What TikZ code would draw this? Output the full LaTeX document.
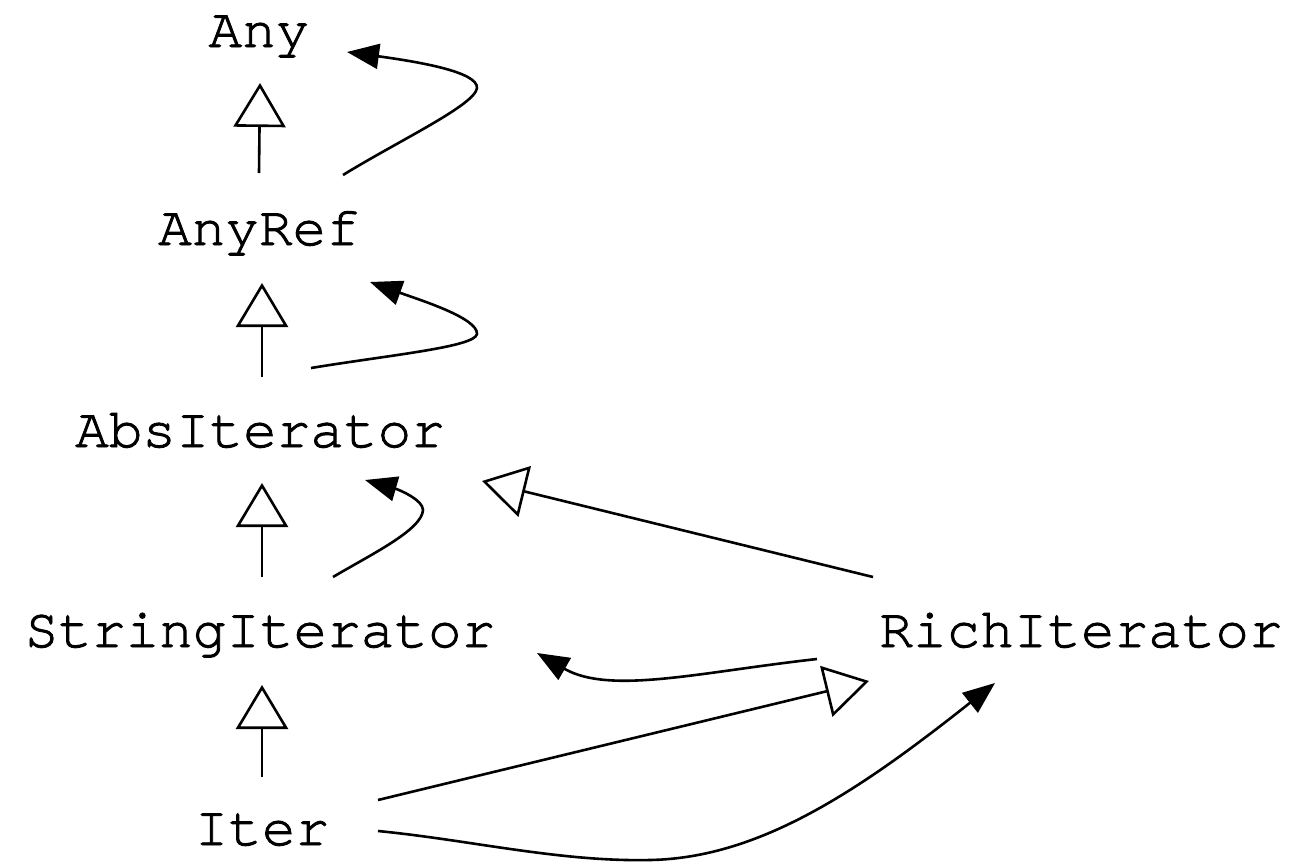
\documentclass[tikz,border=0pt]{standalone}
\usepackage{fontspec}
\setmonofont[RawFeature={embolden=1.6}]{TeX Gyre Cursor}
\usetikzlibrary{arrows.meta,calc}
\begin{document}
\begin{tikzpicture}[x=0.5pt,y=-0.5pt,
  lbl/.style={anchor=base,inner sep=0pt,font=\fontsize{28}{30}\selectfont\ttfamily},
  edge/.style={line width=1.3pt},
  inh/.style={edge,-{Triangle[open,length=22pt,width=26pt]}},
  ref/.style={edge,-{Triangle[length=16pt,width=12.5pt]}}]
\useasboundingbox (0,0) rectangle (1297,863);
\node[lbl] (any) at (259,47) {Any};
\node[lbl] (anyref) at (259,245) {AnyRef};
\node[lbl] (abs) at (260,447) {AbsIterator};
\node[lbl] (str) at (260,647) {StringIterator};
\node[lbl] (rich) at (1081,647) {RichIterator};
\node[lbl] (iter) at (262,845) {Iter};
% inheritance
\draw[inh] ($(anyref.base)+(0,-72)$) -- ($(any.base)+(1,36)$);
\draw[inh] ($(abs.base)+(2,-70)$) -- ($(anyref.base)+(3,38)$);
\draw[inh] ($(str.base)+(2,-70)$) -- ($(abs.base)+(2,36)$);
\draw[inh] ($(iter.base)+(0,-68)$) -- ($(str.base)+(2,38)$);
\draw[inh] ($(rich.base)+(-208,-70)$) -- ($(abs.base)+(222,34)$);
\draw[inh] ($(iter.base)+(116,-45)$) -- ($(rich.base)+(-212,34)$);
% references
\draw[ref] ($(anyref.base)+(84,-70)$) .. controls (400,140) and (475,105) .. (477,88)
  .. controls (478,72) and (420,62) .. ($(any.base)+(88,5)$);
\draw[ref] ($(abs.base)+(51,-79)$) .. controls (390,355) and (475,347) .. (477,334)
  .. controls (478,318) and (420,300) .. ($(anyref.base)+(111,37)$);
\draw[ref] ($(str.base)+(73,-70)$) .. controls (370,555) and (422,530) .. (423,510)
  .. controls (423,500) and (400,490) .. ($(abs.base)+(105,33)$);
\draw[ref] ($(rich.base)+(-264,12)$) .. controls (700,672) and (610,695) .. ($(str.base)+(277,6)$);
\draw[ref] ($(iter.base)+(116,-14)$) .. controls (470,840) and (560,862) .. (650,860)
  .. controls (760,858) and (860,790) .. ($(rich.base)+(-86,36)$);
\end{tikzpicture}
\end{document}
